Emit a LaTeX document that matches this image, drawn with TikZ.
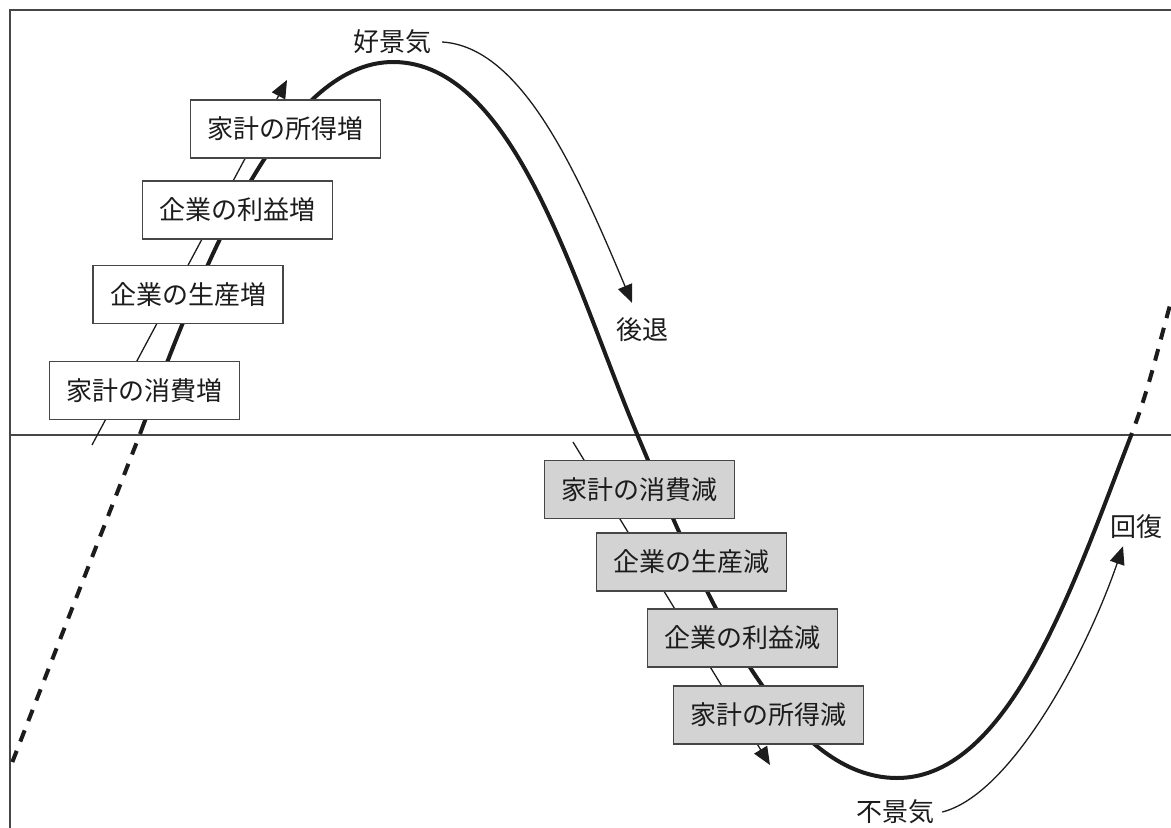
\documentclass[tikz,border=0pt]{standalone}
\usepackage{fontspec}
\newfontfamily\jp{Noto Sans CJK JP}
\usetikzlibrary{arrows.meta,calc}
\definecolor{ink}{RGB}{28,28,28}
\definecolor{framec}{RGB}{70,70,70}
\definecolor{boxgray}{RGB}{211,211,211}
\tikzset{
  upbox/.style={draw=framec, line width=1.3pt, fill=white, minimum width=190pt, minimum height=58pt, inner sep=0pt, font=\jp\fontsize{26}{30}\selectfont, text=ink},
  downbox/.style={upbox, fill=boxgray},
  lbl/.style={inner sep=0pt, font=\jp\fontsize{26}{30}\selectfont, text=ink},
  thickline/.style={draw=ink, line width=4pt},
  dashline/.style={draw=ink, line width=4pt, dash pattern=on 12pt off 10pt, dash phase=12pt},
  thinarrow/.style={draw=ink, line width=1.3pt, -{Triangle[length=18pt,width=15pt]}},
  thinline/.style={draw=framec, line width=1.3pt}
}
\begin{document}
\begin{tikzpicture}[x=1pt,y=-1pt]
\useasboundingbox (0,0) rectangle (1171,828);
% frame and axis
\coordinate (ftl) at (10,10);
\coordinate (ftr) at (1171,10);
\coordinate (fbl) at (10,828);
\coordinate (axl) at (10,435);
\coordinate (axr) at (1171,435);
\draw[thinline] (fbl) -- (ftl) -- (ftr);
\draw[thinline] (axl) -- (axr);
% business cycle curve
\coordinate (c0) at (140,434);
\coordinate (c1) at (393,62);
\coordinate (c2) at (637,434);
\coordinate (c3) at (897,778);
\coordinate (c4) at (1132,433);
\coordinate (cl) at (10,768);
\coordinate (cr) at (1172,298);
\draw[thickline] (c0) .. controls (203,264) and (283,62) .. (c1)
  .. controls (515,62) and (574,284) .. (c2)
  .. controls (700,584) and (780,778) .. (c3)
  .. controls (1010,778) and (1074,583) .. (c4);
\draw[dashline] (c0) -- (cl);
\draw[dashline] (c4) .. controls (1150,386) and (1160,340) .. (cr);
% straight chain arrows
\coordinate (ua) at (92,445);
\coordinate (ub) at (287,80);
\draw[thinarrow] (ua) -- (ub);
\coordinate (da) at (573,442);
\coordinate (db) at (770,765);
\draw[thinarrow] (da) -- (db);
% boxes
\node[upbox] (b1) at (285.5,129) {家計の所得増};
\node[upbox] (b2) at (237.5,210) {企業の利益増};
\node[upbox] (b3) at (188,294.5) {企業の生産増};
\node[upbox] (b4) at (144.5,390.5) {家計の消費増};
\node[downbox] (d1) at (639.5,489.5) {家計の消費減};
\node[downbox] (d2) at (691.5,562) {企業の生産減};
\node[downbox] (d3) at (742.5,638) {企業の利益減};
\node[downbox] (d4) at (768.5,715) {家計の所得減};
% phase labels
\node[lbl] (kokeiki) at (392,42) {好景気};
\node[lbl] (kotai) at (642,330) {後退};
\node[lbl] (fukeiki) at (895,812) {不景気};
\node[lbl] (kaifuku) at (1136,527) {回復};
\draw[thinarrow] ($(kokeiki.east)+(11,0)$) .. controls (522,47) and (577,172) .. ($(kotai.north)+(-10,-15)$);
\draw[thinarrow] ($(fukeiki.east)+(8,0)$) .. controls (1010,795) and (1085,657) .. ($(kaifuku.south)+(-13,7)$);
\end{tikzpicture}
\end{document}
